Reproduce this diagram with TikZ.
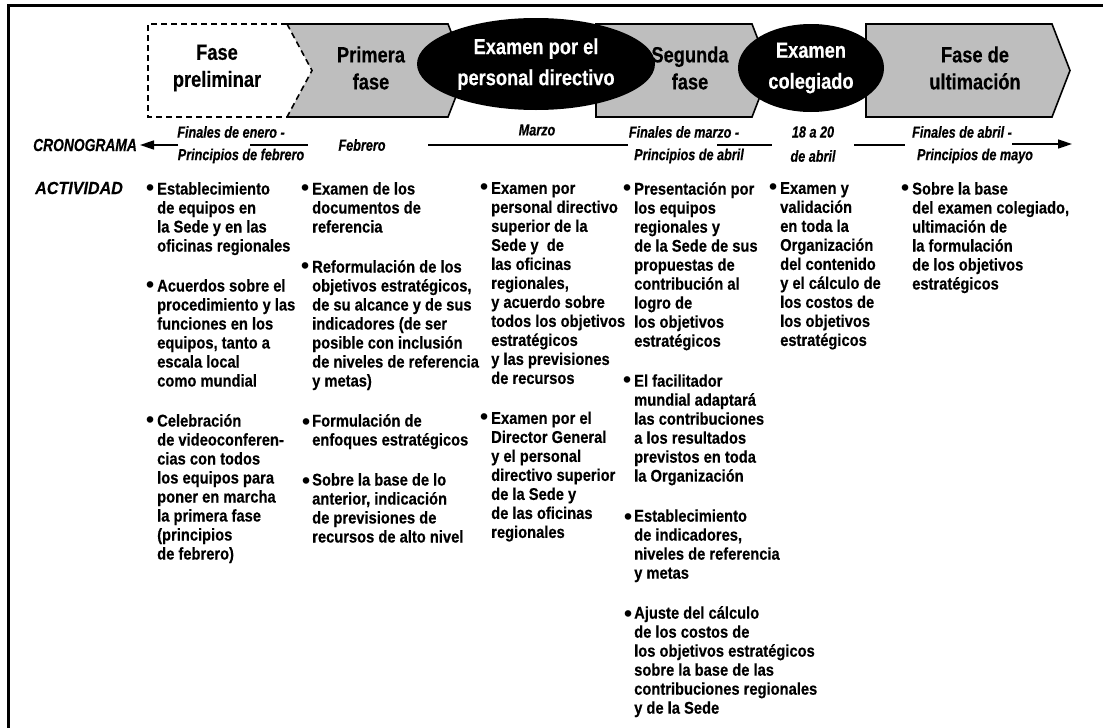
\documentclass[tikz,border=0pt]{standalone}
\usepackage{fontspec}
\setmainfont{Liberation Sans}[FakeStretch=0.865, BoldFeatures={FakeBold=0.4}]
\newfontfamily\tlfont{Liberation Sans}[FakeStretch=0.79, BoldFeatures={FakeBold=0.4}, BoldItalicFeatures={FakeBold=0.4}]
\newfontfamily\actfont{Liberation Sans}[FakeStretch=0.92, BoldFeatures={FakeBold=0.4}, BoldItalicFeatures={FakeBold=0.4}]
\newfontfamily\hdfont{Liberation Sans}[FakeStretch=0.83, BoldFeatures={FakeBold=0.4}]
\newfontfamily\bulfont{Liberation Sans}
\usetikzlibrary{arrows.meta,shapes.geometric}
\definecolor{phasegray}{RGB}{190,190,190}
\newcommand\bu{\leavevmode\llap{\smash{\raisebox{-0.8pt}{\scalebox{1.35}{\bulfont\textbullet}}}\hspace{3pt}}}
\newcommand\bul{\leavevmode\llap{\smash{\raisebox{-3pt}{\scalebox{1.35}{\bulfont\textbullet}}}\hspace{2pt}}}
\tikzset{
  body/.style={anchor=north west, inner sep=0pt, align=left, font=\fontsize{17}{19}\selectfont\bfseries},
  phasetext/.style={font=\hdfont\fontsize{22}{27}\selectfont\bfseries, align=center, inner sep=0pt},
  ovaltext/.style={font=\hdfont\fontsize{22}{31}\selectfont\bfseries, align=center, inner sep=0pt, text=white},
  oval/.style={ellipse, fill=black, inner sep=0pt},
  tl/.style={font=\tlfont\fontsize{16}{18}\selectfont\bfseries\itshape, inner sep=0pt},
  rowlabel/.style={font=\tlfont\fontsize{17.5}{20}\selectfont\bfseries\itshape, inner sep=0pt, anchor=west},
  actlabel/.style={font=\actfont\fontsize{17.5}{20}\selectfont\bfseries\itshape, inner sep=0pt, anchor=west},
  tlline/.style={line width=1.6pt},
  edge/.style={line width=1.6pt, line join=miter},
  dashedge/.style={line width=1.6pt, dash pattern=on 6pt off 4pt}
}
\begin{document}
\begin{tikzpicture}[x=1pt,y=-1pt]
\useasboundingbox (0,0) rectangle (1103,728);
\draw[line width=3pt] (8,728) -- (8,5) -- (1103,5);
% Primera fase
\fill[phasegray] (287,24) -- (448,24) -- (466,70.5) -- (448,117) -- (287,117) -- (312,70.5) -- cycle;
\draw[edge] (287,24) -- (448,24) -- (466,70.5) -- (448,117) -- (287,117);
% Fase preliminar (dashed)
\draw[dashedge] (287,24) -- (148,24) -- (148,117) -- (287,117);
\draw[dashedge] (287,24) -- (312,70.5) -- (287,117);
% Segunda fase
\filldraw[edge, fill=phasegray] (596,24) -- (752,24) -- (770,70.5) -- (752,117) -- (596,117) -- cycle;
% Fase de ultimacion
\filldraw[edge, fill=phasegray] (866,24) -- (1052,24) -- (1070,70.5) -- (1052,117) -- (866,117) -- cycle;
% ellipses
\node[oval, minimum width=238pt, minimum height=92pt] (e1) at (536,64) {};
\node[oval, minimum width=146pt, minimum height=88pt] (e2) at (811,68) {};
% phase texts
\node[phasetext] (p0) at (217,68) {Fase\\preliminar};
\node[phasetext] (p1) at (371,68) {Primera\\fase};
\node[ovaltext] (p2) at (e1) {Examen por el\\personal directivo};
\node[phasetext] (p3) at (690,68) {Segunda\\fase};
\node[ovaltext] (p4) at (e2) {Examen\\colegiado};
\node[phasetext] (p5) at (975,68) {Fase de\\ultimación};
% timeline
\node[rowlabel] (cron) at (33,145) {CRONOGRAMA};
\node[tl] (t1a) at (231,132) {Finales de enero -};
\node[tl] (t1b) at (241,156) {Principios de febrero};
\node[tl] (t2) at (362,145) {Febrero};
\node[tl] (t3) at (537,130) {Marzo};
\node[tl] (t4a) at (684,132) {Finales de marzo -};
\node[tl] (t4b) at (689,156) {Principios de abril};
\node[tl] (t5a) at (813,132) {18 a 20};
\node[tl] (t5b) at (813,156) {de abril};
\node[tl] (t6a) at (962,132) {Finales de abril -};
\node[tl] (t6b) at (975,156) {Principios de mayo};
\coordinate (a0) at (178,145);
\coordinate (a1) at (140,145);
\draw[tlline, -{Triangle[length=14pt,width=9pt]}] (a0) -- (a1);
\coordinate (s1a) at (250,145); \coordinate (s1b) at (308,145);
\draw[tlline] (s1a) -- (s1b);
\coordinate (s2a) at (428,145); \coordinate (s2b) at (628,145);
\draw[tlline] (s2a) -- (s2b);
\coordinate (s3a) at (717,145); \coordinate (s3b) at (772,145);
\draw[tlline] (s3a) -- (s3b);
\coordinate (s4a) at (854,145); \coordinate (s4b) at (905,145);
\draw[tlline] (s4a) -- (s4b);
\coordinate (b0) at (1012,144);
\coordinate (b1) at (1072,144);
\draw[tlline, -{Triangle[length=14pt,width=9pt]}] (b0) -- (b1);
% activities
\node[actlabel] (act) at (35,188) {ACTIVIDAD};
\node[body] (c1) at (157,182) {\bu Establecimiento\\de equipos en\\la Sede y en las\\oficinas regionales\\[21pt]
\bu Acuerdos sobre el\\procedimiento y las\\funciones en los\\equipos, tanto a\\escala local\\como mundial\\[21pt]
\bu Celebración\\de videoconferen-\\cias con todos\\los equipos para\\poner en marcha\\la primera fase\\(principios\\de febrero)};
\node[body] (c2) at (312,182) {\bu Examen de los\\documentos de\\referencia\\[21pt]
\bu Reformulación de los\\objetivos estratégicos,\\de su alcance y de sus\\indicadores (de ser\\posible con inclusión\\de niveles de referencia\\y metas)\\[21pt]
\bul Formulación de\\enfoques estratégicos\\[21pt]
\bul Sobre la base de lo\\anterior, indicación\\de previsiones de\\recursos de alto nivel};
\node[body] (c3) at (491,182) {\bu Examen por\\personal directivo\\superior de la\\Sede y\ \ de\\las oficinas\\regionales,\\y acuerdo sobre\\todos los objetivos\\estratégicos\\y las previsiones\\de recursos\\[21pt]
\bu Examen por el\\Director General\\y el personal\\directivo superior\\de la Sede y\\de las oficinas\\regionales};
\node[body] (c4) at (634,182) {\bu Presentación por\\los equipos\\regionales y\\de la Sede de sus\\propuestas de\\contribución al\\logro de\\los objetivos\\estratégicos\\[21pt]
\bu El facilitador\\mundial adaptará\\las contribuciones\\a los resultados\\previstos en toda\\la Organización\\[21pt]
\bul Establecimiento\\de indicadores,\\niveles de referencia\\y metas\\[21pt]
\bul Ajuste del cálculo\\de los costos de\\los objetivos estratégicos\\sobre la base de las\\contribuciones regionales\\y de la Sede};
\node[body] (c5) at (780,182) {\bu Examen y\\validación\\en toda la\\Organización\\del contenido\\y el cálculo de\\los costos de\\los objetivos\\estratégicos};
\node[body] (c6) at (912,182) {\bu Sobre la base\\del examen colegiado,\\ultimación de\\la formulación\\de los objetivos\\estratégicos};
\end{tikzpicture}
\end{document}
